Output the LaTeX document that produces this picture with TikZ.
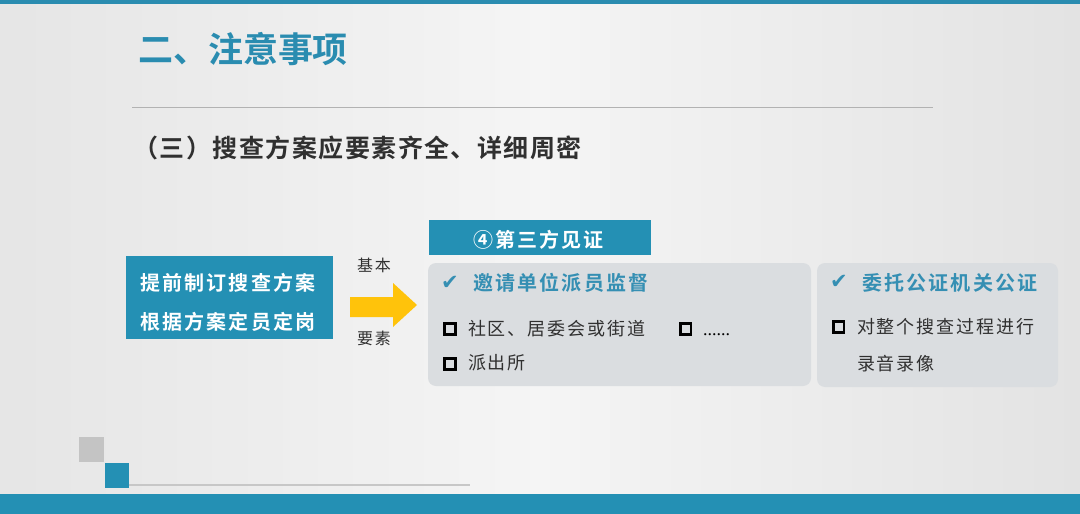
\documentclass[tikz,border=0pt]{standalone}
\usepackage{fontspec}
\setmainfont{Noto Sans CJK SC}
\newfontfamily\cjkbold{Noto Sans CJK SC Bold}
\newfontfamily\symfont{DejaVu Sans}
\newfontfamily\dotfont{Liberation Serif}
\definecolor{slideblue}{HTML}{2490B4}
\definecolor{titleblue}{HTML}{2A8CB0}
\definecolor{checkblue}{HTML}{358FB3}
\definecolor{panelgrey}{HTML}{DADDE0}
\definecolor{textdark}{HTML}{303030}
\definecolor{arrowgold}{HTML}{FFC30B}
\begin{document}
\begin{tikzpicture}[x=1pt,y=-1pt,
  every node/.style={inner sep=0pt,outer sep=0pt},
  txt/.style={anchor=west,text=textdark,font=\fontsize{18}{20}\selectfont\addfontfeatures{LetterSpace=11}},
  chk/.style={anchor=west,text=checkblue,font=\cjkbold\fontsize{20}{22}\selectfont\addfontfeatures{LetterSpace=11}},
  tick/.style={anchor=west,text=checkblue,font=\symfont\fontsize{21}{22}\selectfont},
  boxtxt/.style={anchor=west,text=white,font=\cjkbold\fontsize{20}{22}\selectfont\addfontfeatures{LetterSpace=11}},
  bullet/.style={draw=black,line width=2.8pt,minimum size=10.8pt},
  panel/.style={fill=panelgrey,rounded corners=8pt},
  bluebox/.style={fill=slideblue}]
\useasboundingbox (0,0) rectangle (1080,514);
% background
\shade[left color=black!10,right color=black!11,middle color=black!4] (0,0) rectangle (1080,514);
\fill[titleblue] (0,0) rectangle (1080,4);
\fill[slideblue] (0,494) rectangle (1080,514);
% title
\node[anchor=west,text=titleblue,font=\cjkbold\fontsize{35}{38}\selectfont] (title) at (138,49) {二、注意事项};
\draw[black!30,line width=1pt] (132,107) coordinate (l1) -- (933,107) coordinate (l2);
\node[anchor=west,text=textdark,font=\cjkbold\fontsize{25}{28}\selectfont\addfontfeatures{LetterSpace=6}] (sub) at (133,148) {（三）搜查方案应要素齐全、详细周密};
% left blue box
\node[bluebox,minimum width=207pt,minimum height=83pt] (plan) at (229.5,297.5) {};
\node[boxtxt] (p1) at (140,283) {提前制订搜查方案};
\node[boxtxt] (p2) at (140,322) {根据方案定员定岗};
\node[anchor=west,text=textdark,font=\fontsize{16}{18}\selectfont\addfontfeatures{LetterSpace=12}] (jb) at (357,265) {基本};
\node[anchor=west,text=textdark,font=\fontsize{16}{18}\selectfont\addfontfeatures{LetterSpace=12}] (ys) at (357,338) {要素};
% yellow arrow
\fill[arrowgold] (350,297) -- (393,297) -- (393,283) -- (417,305) -- (393,327) -- (393,317) -- (350,317) -- cycle;
% header
\node[bluebox,minimum width=222pt,minimum height=35pt] (hdr) at (540,237.5) {};
\node[boxtxt,font=\cjkbold\fontsize{20}{22}\selectfont\addfontfeatures{LetterSpace=10}] (hdrt) at (473,240) {④第三方见证};
% panels
\fill[panel] (428,263) rectangle (811,386);
\fill[panel] (817,263) rectangle (1058,387);
% left panel content
\node[tick] (c1) at (441,283) {✔};
\node[chk] (c1t) at (473,283) {邀请单位派员监督};
\node[bullet] (b1) at (450,329) {};
\node[txt] (b1t) at (468,329) {社区、居委会或街道};
\node[bullet] (b2) at (685.5,329) {};
\node[anchor=base west,text=black,font=\dotfont\fontsize{18}{20}\selectfont] (b2t) at (703,335) {......};
\node[bullet] (b3) at (450,364) {};
\node[txt] (b3t) at (468,363) {派出所};
% right panel content
\node[tick] (c2) at (830,282) {✔};
\node[chk] (c2t) at (862,283) {委托公证机关公证};
\node[bullet] (b4) at (838.5,327) {};
\node[txt] (b4t) at (857,327) {对整个搜查过程进行};
\node[txt] (b4u) at (857,364) {录音录像};
% bottom decoration
\fill[black!23] (79,437) rectangle (104,462);
\fill[slideblue] (105,463) rectangle (129,488);
\draw[black!22,line width=1.5pt] (129,485) coordinate (d1) -- (470,485) coordinate (d2);
\end{tikzpicture}
\end{document}
